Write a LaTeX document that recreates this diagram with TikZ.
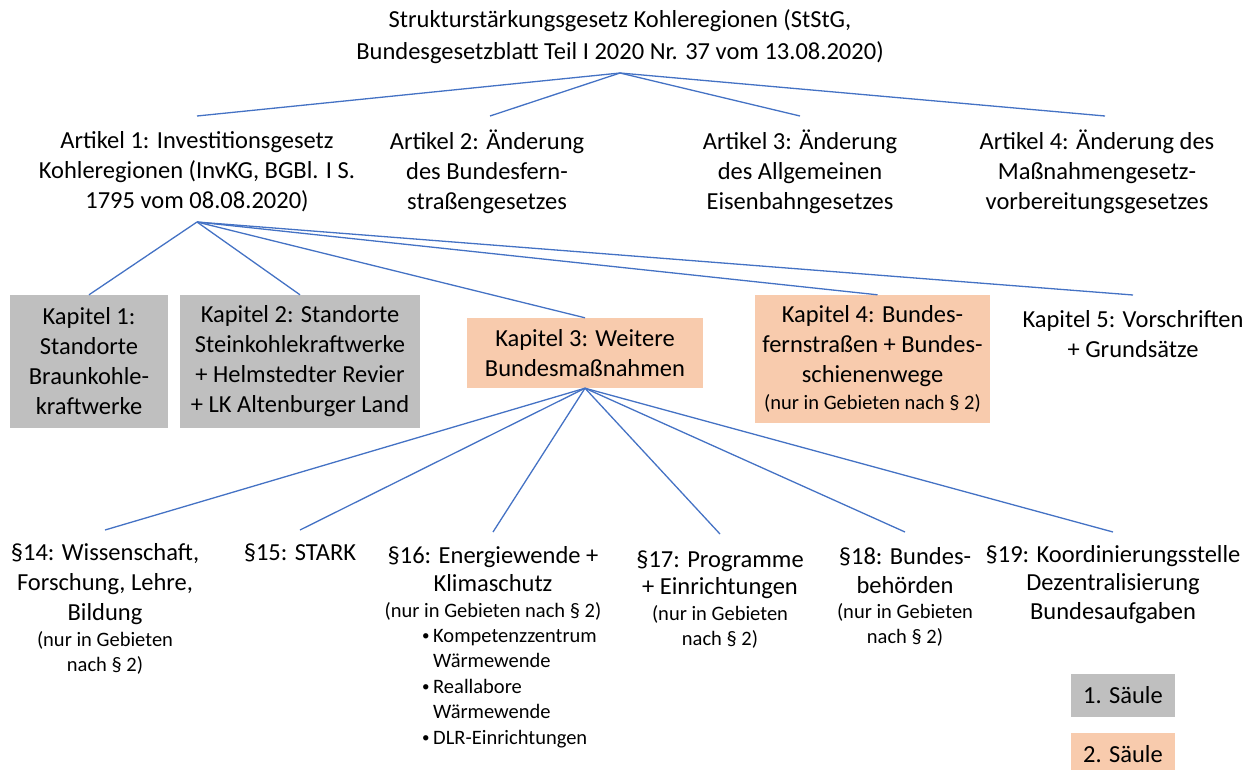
\documentclass[tikz,border=0pt]{standalone}
\usepackage{fontspec}
\setmainfont{Carlito}
\definecolor{lblue}{HTML}{4472C4}
\definecolor{sgray}{HTML}{BFBFBF}
\definecolor{sorange}{HTML}{F8CBAD}
\newcommand{\mfont}{\fontsize{24.5}{30}\selectfont}
\newcommand{\sfnt}{\fontsize{20.5}{25}\selectfont}
\newcommand{\blt}{\makebox[12pt][l]{\hspace*{1pt}\fontsize{15}{15}\selectfont\raisebox{1.5pt}{•}}}
\tikzset{
  txt/.style={font=\mfont, align=center, inner sep=0pt, text=black},
  graybox/.style={txt, fill=sgray},
  orangebox/.style={txt, fill=sorange},
  link/.style={draw=lblue, line width=1.3pt},
}
\begin{document}
\begin{tikzpicture}[x=1pt,y=-1pt]
\useasboundingbox (0,0) rectangle (1255,769);
% top
\node[txt, font=\fontsize{24.5}{32}\selectfont] (top) at (620,37) {Strukturstärkungsgesetz Kohleregionen (StStG,\\Bundesgesetzblatt Teil I 2020 Nr. 37 vom 13.08.2020)};
\coordinate (topc) at (620,73);
% articles
\node[txt] (a1) at (197,172) {Artikel 1: Investitionsgesetz\\Kohleregionen (InvKG, BGBl. I S.\\1795 vom 08.08.2020)};
\node[txt] (a2) at (487,172) {Artikel 2: Änderung\\des Bundesfern-\\straßengesetzes};
\node[txt] (a3) at (800,172) {Artikel 3: Änderung\\des Allgemeinen\\Eisenbahngesetzes};
\node[txt] (a4) at (1097,172) {Artikel 4: Änderung des\\Maßnahmengesetz-\\vorbereitungsgesetzes};
\coordinate (a1t) at (197,116);
\coordinate (a2t) at (490,116);
\coordinate (a3t) at (800,116);
\coordinate (a4t) at (1105,116);
\coordinate (a1b) at (197,222);
% chapters
\node[graybox, minimum width=158pt, minimum height=133pt] (k1) at (89,361.5) {Kapitel 1:\\Standorte\\Braunkohle-\\kraftwerke};
\node[graybox, minimum width=240pt, minimum height=133pt] (k2) at (300,361.5) {Kapitel 2: Standorte\\Steinkohlekraftwerke\\+ Helmstedter Revier\\+ LK Altenburger Land};
\node[orangebox, minimum width=236pt, minimum height=70pt] (k3) at (585,353) {Kapitel 3: Weitere\\Bundesmaßnahmen};
\node[orangebox, minimum width=235pt, minimum height=128pt] (k4) at (872.5,359) {Kapitel 4: Bundes-\\fernstraßen + Bundes-\\schienenwege\\[-3pt]{\sfnt (nur in Gebieten nach § 2)}};
\node[txt] (k5) at (1133,334) {Kapitel 5: Vorschriften\\+ Grundsätze};
\coordinate (k5t) at (1133,295);
% paragraphs
\node[txt, anchor=north] (p14) at (105,543) {§14: Wissenschaft,\\Forschung, Lehre,\\Bildung\\[-4pt]{\sfnt (nur in Gebieten}\\[-5pt]{\sfnt nach § 2)}};
\node[txt, anchor=north] (p15) at (300,544) {§15: STARK};
\node[txt, anchor=north] (p16) at (493,546) {§16: Energiewende +\\[-2pt]Klimaschutz\\[-4pt]{\sfnt (nur in Gebieten nach § 2)}};
\node[txt, anchor=north west, font=\fontsize{20.5}{25.5}\selectfont, align=left] (p16b) at (421,629) {\blt Kompetenzzentrum\\\hspace*{12pt}Wärmewende\\\blt Reallabore\\\hspace*{12pt}Wärmewende\\\blt DLR-Einrichtungen};
\node[txt, anchor=north] (p17) at (720,551) {§17: Programme\\[-3pt]+ Einrichtungen\\[-4pt]{\sfnt (nur in Gebieten}\\[-5pt]{\sfnt nach § 2)}};
\node[txt, anchor=north] (p18) at (905,547) {§18: Bundes-\\[-1pt]behörden\\[-5pt]{\sfnt (nur in Gebieten}\\[-5pt]{\sfnt nach § 2)}};
\node[txt, anchor=north] (p19) at (1113,545) {§19: Koordinierungsstelle\\[-2pt]Dezentralisierung\\[-1pt]Bundesaufgaben};
\coordinate (p14t) at (105,530);
\coordinate (p15t) at (300,530);
\coordinate (p16t) at (493,532);
\coordinate (p17t) at (720,534);
\coordinate (p18t) at (905,532);
\coordinate (p19t) at (1113,532);
% legend
\node[graybox, minimum width=104pt, minimum height=43pt] (l1) at (1123,695.5) {1. Säule};
\node[orangebox, minimum width=104pt, minimum height=43pt] (l2) at (1123,754.5) {2. Säule};
% connectors
\foreach \e in {a1t,a2t,a3t,a4t} \draw[link] (topc) -- (\e);
\draw[link] (a1b) -- (k1.north);
\draw[link] (a1b) -- (k2.north);
\draw[link] (a1b) -- (k3.north);
\draw[link] (a1b) -- ([xshift=5pt]k4.north);
\draw[link] (a1b) -- (k5t);
\foreach \e in {p14t,p15t,p16t,p17t,p18t,p19t} \draw[link] (k3.south) -- (\e);
\end{tikzpicture}
\end{document}
